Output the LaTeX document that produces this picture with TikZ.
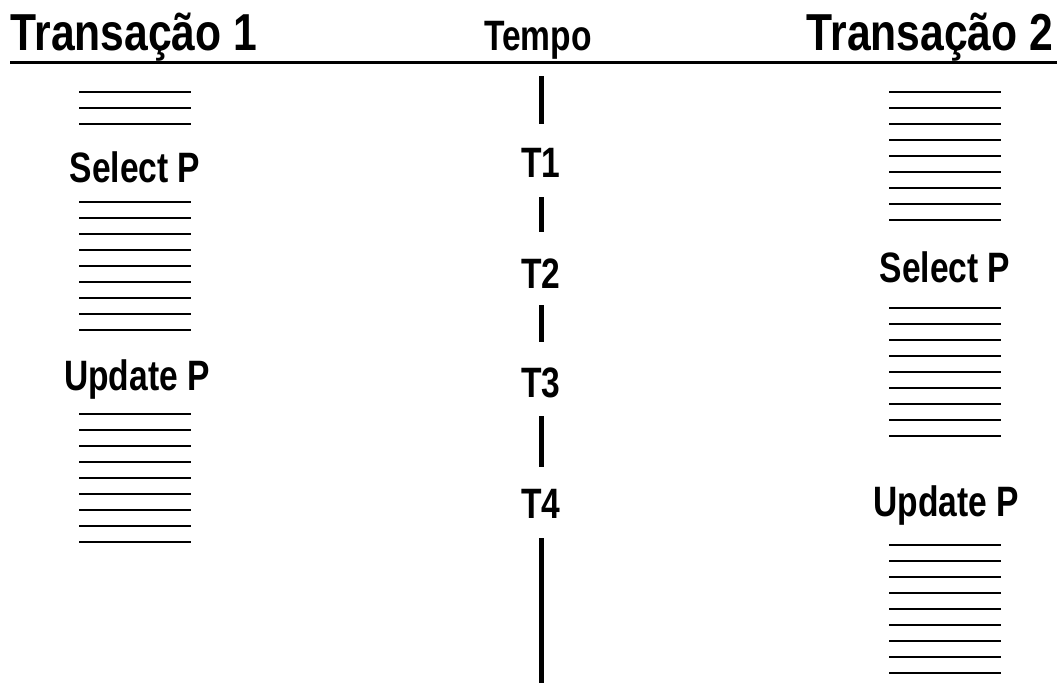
\documentclass[tikz,border=0pt]{standalone}
\usepackage{fontspec}
\setmainfont{Liberation Sans}[FakeStretch=0.82]
\newfontfamily\bodyfont{Liberation Sans}[FakeStretch=0.79]
\begin{document}
\begin{tikzpicture}[x=1pt,y=-1pt,
  title/.style={anchor=base,inner sep=0pt,font=\fontsize{52}{52}\selectfont\bfseries},
  lbl/.style={anchor=base,inner sep=0pt,font=\bodyfont\fontsize{42.5}{42.5}\selectfont\bfseries},
  rule/.style={line width=2.4pt},
  axis/.style={line width=5pt}]
\useasboundingbox (0,0) rectangle (1057,683);
% titles
\node[title] (t1) at (134,50) {Transação 1};
\node[lbl] (tempo) at (538,50) {Tempo};
\node[title] (t2) at (930,50) {Transação 2};
\coordinate (hl) at (10,62);
\coordinate (hr) at (1057,62);
\draw[line width=3pt] (hl) -- (hr);
% left column
\foreach \y in {92,108,124} \draw[rule] (79,\y) -- (191,\y);
\node[lbl] (ls) at (135,182) {Select P};
\foreach \i in {0,...,8} \draw[rule] (79,202+16*\i) -- (191,202+16*\i);
\node[lbl] (lu) at (137,390) {Update P};
\foreach \i in {0,...,8} \draw[rule] (79,414+16*\i) -- (191,414+16*\i);
% right column
\foreach \i in {0,...,8} \draw[rule] (889,92+16*\i) -- (1001,92+16*\i);
\node[lbl] (rs) at (945,282) {Select P};
\foreach \i in {0,...,8} \draw[rule] (889,308+16*\i) -- (1001,308+16*\i);
\node[lbl] (ru) at (946,516) {Update P};
\foreach \i in {0,...,8} \draw[rule] (889,545+16*\i) -- (1001,545+16*\i);
% time axis
\node[lbl] (T1) at (541,177) {T1};
\node[lbl] (T2) at (541,288) {T2};
\node[lbl] (T3) at (541,397) {T3};
\node[lbl] (T4) at (541,518) {T4};
\coordinate (a0) at (541,76);  \coordinate (a1) at (541,124);
\coordinate (b0) at (541,197); \coordinate (b1) at (541,232);
\coordinate (c0) at (541,305); \coordinate (c1) at (541,342);
\coordinate (d0) at (541,416); \coordinate (d1) at (541,467);
\coordinate (e0) at (541,538); \coordinate (e1) at (541,683);
\draw[axis] (a0) -- (a1);
\draw[axis] (b0) -- (b1);
\draw[axis] (c0) -- (c1);
\draw[axis] (d0) -- (d1);
\draw[axis] (e0) -- (e1);
\end{tikzpicture}
\end{document}
